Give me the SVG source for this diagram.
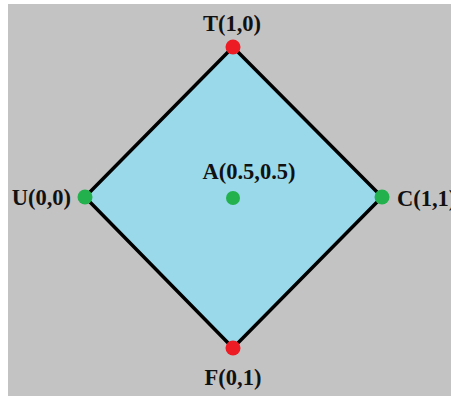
<svg xmlns="http://www.w3.org/2000/svg" width="451" height="396" viewBox="0 0 451 396">
<style>
text{font-family:"Liberation Serif","Times New Roman",serif;font-weight:bold;font-size:22.5px;fill:#111}
.r{fill:#ed1c24}.g{fill:#22b14c}
</style>
<rect width="451" height="396" fill="#fff"/>
<rect x="8" y="4" width="443" height="392" fill="#c3c3c3"/>
<g id="connectors">
<polygon points="233,47 382,197 233,348 85,197" fill="#99d9ea" stroke="#000" stroke-width="3.5"/>
</g>
<g id="T"><circle class="r" cx="233" cy="47" r="7.5"/><text x="232" y="31" text-anchor="middle">T(1,0)</text></g>
<g id="U"><circle class="g" cx="85" cy="197" r="7.5"/><text x="71" y="205" text-anchor="end">U(0,0)</text></g>
<g id="C"><circle class="g" cx="382" cy="197" r="7.5"/><text x="397" y="206">C(1,1)</text></g>
<g id="F"><circle class="r" cx="233" cy="348" r="7.5"/><text x="233" y="385" text-anchor="middle">F(0,1)</text></g>
<g id="A"><circle class="g" cx="233" cy="198" r="7"/><text x="249" y="179" text-anchor="middle">A(0.5,0.5)</text></g>
</svg>
